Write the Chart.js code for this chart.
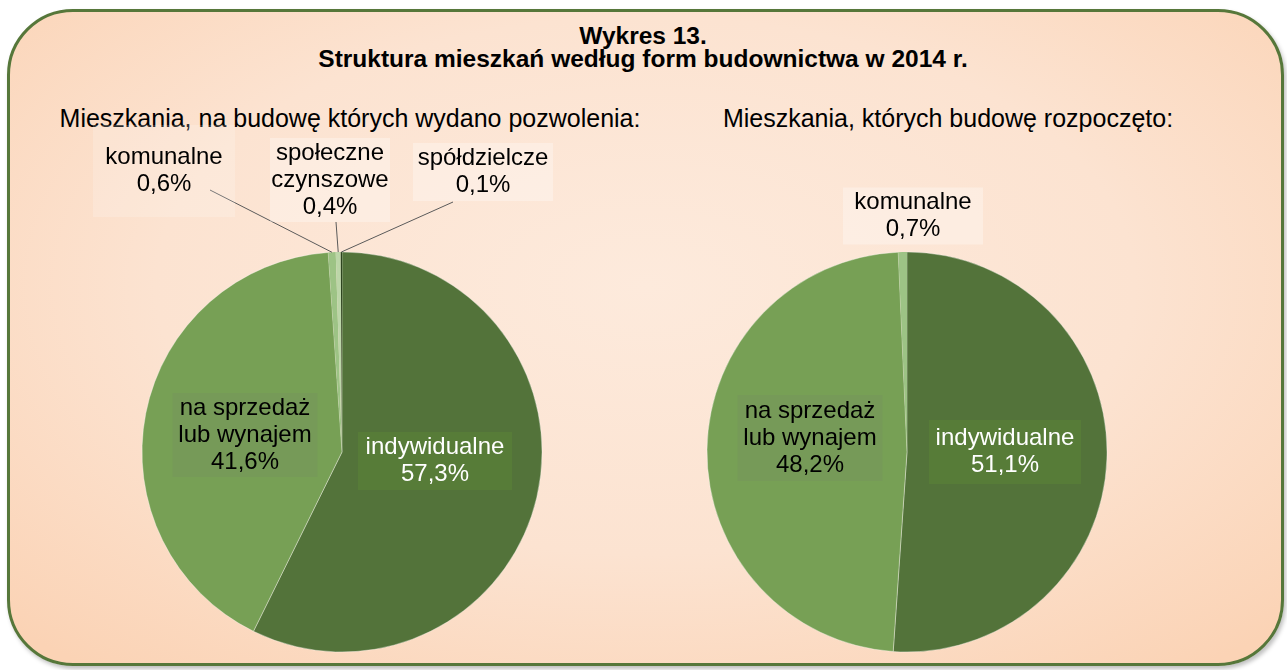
<!DOCTYPE html>
<html>
<head>
<meta charset="utf-8">
<script src="https://cdn.jsdelivr.net/npm/chart.js@4/dist/chart.umd.min.js"></script>
<style>
  body { margin: 0; background: #fff; font-family: "Liberation Sans", Arial, sans-serif; }
  #page { position: relative; width: 1287px; height: 670px; overflow: hidden; }
  #frame {
    position: absolute; left: 7px; top: 9px; width: 1277px; height: 657px;
    box-sizing: border-box; border: 3px solid #56773a; border-radius: 66px;
    background: radial-gradient(ellipse 70% 75% at 50% 42%, #fdeadc 0%, #fce3d1 55%, #fbd3b5 100%);
    box-shadow: 2px 3px 4px rgba(0,0,0,0.25);
  }
  .txt { position: absolute; color: #000; white-space: nowrap; transform: translateX(-50%); }
  .title { font-weight: bold; font-size: 24.5px; line-height: 23px; text-align: center; left: 643px; top: 24px; }
  .sub { font-size: 25px; line-height: 28px; top: 104px; }
  canvas { position: absolute; top: 0; }
</style>
</head>
<body>
<div id="page">
  <div id="frame"></div>
  <div class="txt title">Wykres 13.<br>Struktura mieszkań według form budownictwa w 2014 r.</div>
  <div class="txt sub" style="left:350px">Mieszkania, na budowę których wydano pozwolenia:</div>
  <div class="txt sub" style="left:948px">Mieszkania, których budowę rozpoczęto:</div>
  <div id="c1wrap" style="position:absolute;left:0;top:0;width:640px;height:670px"><canvas id="chart1"></canvas></div>
  <div id="c2wrap" style="position:absolute;left:640px;top:0;width:647px;height:670px"><canvas id="chart2"></canvas></div>
</div>
<script>
// dane
var permitCategories = ["indywidualne", "na sprzedaż lub wynajem", "komunalne", "społeczne czynszowe", "spółdzielcze"];
var permitValues = [57.3, 41.6, 0.6, 0.4, 0.1];
var permitColors = ["#53733a", "#77a055", "#9dc385", "#bcd6a8", "#2e4420"];

var startedCategories = ["indywidualne", "na sprzedaż lub wynajem", "komunalne"];
var startedValues = [51.1, 48.2, 0.7];
var startedColors = ["#53733a", "#77a055", "#9dc385"];

// label text lines, placement relative to pie centre, box colour
var permitLabels = [
  { lines: ["indywidualne"], dx: 93, dy: 9, color: "#fff", box: "#577c38", w: 154, h: 58 },
  { lines: ["na sprzedaż", "lub wynajem"], dx: -97, dy: -17, color: "#000", box: "#769a58", w: 145, h: 84 },
  { lines: ["komunalne"], dx: -178, dy: -281, color: "#000", box: "rgba(255,255,255,0.18)", w: 142, h: 92, lead: [46, 19] },
  { lines: ["społeczne", "czynszowe"], dx: -12, dy: -272, color: "#000", box: "rgba(255,255,255,0.3)", w: 120, h: 84, lead: [6, 42] },
  { lines: ["spółdzielcze"], dx: 141, dy: -280, color: "#000", box: "rgba(255,255,255,0.3)", w: 140, h: 58, lead: [-30, 30] }
];
var startedLabels = [
  { lines: ["indywidualne"], dx: 98, dy: 0, color: "#fff", box: "#577c38", w: 152, h: 64 },
  { lines: ["na sprzedaż", "lub wynajem"], dx: -97, dy: -14, color: "#000", box: "#769a58", w: 145, h: 86 },
  { lines: ["komunalne"], dx: 6, dy: -236, color: "#000", box: "rgba(255,255,255,0.3)", w: 140, h: 57 }
];

function fmt(v) {
  return v.toFixed(1).replace(".", ",") + "%";
}

var pieLabels = {
  id: "pieLabels",
  afterDraw: function(chart, args, opts) {
    var ctx = chart.ctx;
    var meta = chart.getDatasetMeta(0);
    var values = chart.data.datasets[0].data;
    var cx = meta.data[0].x, cy = meta.data[0].y;
    ctx.save();
    ctx.font = "24px 'Liberation Sans', Arial, sans-serif";
    ctx.textAlign = "center";
    ctx.textBaseline = "middle";
    opts.items.forEach(function(lab, i) {
      var arc = meta.data[i];
      var lx = cx + lab.dx, ly = cy + lab.dy;
      if (lab.lead) {
        var mid = (arc.startAngle + arc.endAngle) / 2;
        ctx.strokeStyle = "#5a5a5a";
        ctx.lineWidth = 1;
        ctx.beginPath();
        ctx.moveTo(lx + lab.lead[0], ly + lab.lead[1]);
        ctx.lineTo(arc.x + Math.cos(mid) * arc.outerRadius, arc.y + Math.sin(mid) * arc.outerRadius);
        ctx.stroke();
      }
      ctx.fillStyle = lab.box;
      ctx.fillRect(lx - lab.w / 2, ly - lab.h / 2, lab.w, lab.h);
      var lines = lab.lines.concat([fmt(values[i])]);
      var lh = 27;
      ctx.fillStyle = lab.color;
      lines.forEach(function(t, k) {
        ctx.fillText(t, lx, ly + (k - (lines.length - 1) / 2) * lh);
      });
    });
    ctx.restore();
  }
};

function makePie(id, labels, values, colors, borders, items, pad) {
  return new Chart(document.getElementById(id), {
    type: "pie",
    data: {
      labels: labels,
      datasets: [{
        data: values,
        backgroundColor: colors,
        borderColor: "rgba(255,255,255,0.45)",
        borderWidth: borders
      }]
    },
    options: {
      responsive: true,
      maintainAspectRatio: false,
      animation: false,
      radius: 200,
      layout: { padding: pad },
      plugins: {
        legend: { display: false },
        tooltip: { enabled: false },
        pieLabels: { items: items }
      }
    },
    plugins: [pieLabels]
  });
}

makePie("chart1", permitCategories, permitValues, permitColors, [0.8, 0.8, 0, 0, 0], permitLabels,
  { left: 142, right: 98, top: 252, bottom: 18 });
makePie("chart2", startedCategories, startedValues, startedColors, [0.8, 0.8, 0], startedLabels,
  { left: 67, right: 180, top: 252, bottom: 18 });
</script>
</body>
</html>
